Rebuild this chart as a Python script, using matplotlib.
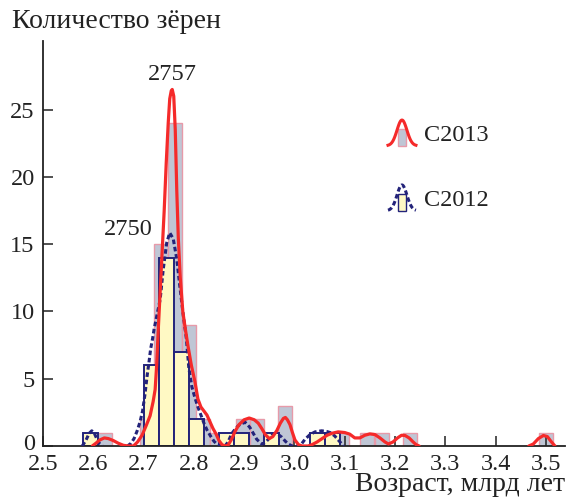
import numpy as np
import matplotlib
matplotlib.use("Agg")
import matplotlib.pyplot as plt
import matplotlib.transforms as mtransforms
from matplotlib.legend_handler import HandlerBase
from matplotlib.patches import Rectangle
from matplotlib.lines import Line2D

# ---------------- data ----------------
# C2013 histogram (bin centres, counts)
c2013_centers = [2.624, 2.706, 2.734, 2.762, 2.790, 2.818, 2.846, 2.897, 2.925,
                 2.982, 3.094, 3.145, 3.175, 3.230, 3.501]
c2013_counts = [1, 2, 15, 24, 9, 2, 1, 2, 2, 3, 1, 1, 1, 1, 1]
c2013_width = 0.028

# C2012 histogram
c2012_centers = [2.595, 2.715, 2.745, 2.775, 2.805, 2.865, 2.895, 2.955, 3.045, 3.075]
c2012_counts = [1, 6, 14, 7, 2, 1, 1, 1, 1, 1]
c2012_width = 0.03

# probability density curves (NaN = gap)
c2013_curve_x = [2.598, 2.605, 2.613, 2.622, 2.630, 2.640, 2.650, 2.660, 2.670, 2.680,
                 2.688, 2.697, 2.705, 2.713, 2.719, 2.723, 2.726, 2.729, 2.733, 2.737,
                 2.741, 2.745, 2.749, 2.752, 2.755, 2.757, 2.760, 2.763, 2.766, 2.769,
                 2.773, 2.778, 2.783, 2.788, 2.795, 2.802, 2.808, 2.814, 2.820, 2.826,
                 2.832, 2.838, 2.844, 2.850, 2.856, 2.862, 2.868, 2.875, 2.882, 2.890,
                 2.900, 2.910, 2.920, 2.928, 2.935, 2.942, 2.950, 2.957, 2.965, 2.972,
                 2.978, 2.982, 2.986, 2.991, 2.996, 3.001, 3.008, 3.015, 3.027, 3.035,
                 3.045, 3.055, 3.065, 3.075, 3.087, 3.100, 3.110, 3.120, 3.130, 3.140,
                 3.150, 3.160, 3.170, 3.180, 3.187, 3.196, 3.205, 3.213, 3.220, 3.228,
                 3.236, 3.242, 3.248, np.nan, 3.466, 3.475, 3.485, 3.495, 3.503, 3.510,
                 3.518]
c2013_curve_y = [0.0, 0.2, 0.45, 0.6, 0.55, 0.4, 0.2, 0.05, 0.0, 0.0,
                 0.3, 0.8, 1.5, 2.25, 3.3, 4.2, 6.0, 8.5, 11.5, 14.5,
                 17.5, 21.0, 24.0, 25.8, 26.4, 26.5, 26.0, 23.5, 19.0, 15.5,
                 12.5, 10.0, 8.7, 7.5, 6.0, 4.8, 3.5, 2.9, 2.6, 2.3,
                 1.8, 1.3, 0.9, 0.4, 0.1, 0.0, 0.05, 0.5, 1.1, 1.6,
                 1.95, 2.08, 1.95, 1.7, 1.3, 0.85, 0.55, 0.7, 1.15, 1.7,
                 2.05, 2.12, 1.95, 1.6, 1.0, 0.45, 0.1, 0.0, 0.0, 0.1,
                 0.3, 0.55, 0.8, 0.95, 1.05, 1.0, 0.88, 0.6, 0.6, 0.8,
                 0.9, 0.85, 0.6, 0.3, 0.15, 0.3, 0.6, 0.8, 0.78, 0.6,
                 0.3, 0.1, 0.0, np.nan, 0.0, 0.15, 0.55, 0.78, 0.7, 0.35,
                 0.0]

c2012_curve_x = [2.578, 2.585, 2.592, 2.597, 2.602, 2.608, 2.613, 2.618, np.nan,
                 2.668, 2.675, 2.681, 2.687, 2.693, 2.698, 2.703, 2.707, 2.711, 2.714,
                 2.718, 2.721, 2.727, 2.733, 2.739, 2.746, 2.752, 2.759, 2.766, 2.772,
                 2.779, 2.785, 2.790, 2.796, 2.802, 2.808, 2.814, 2.820, 2.826, 2.833,
                 2.840, 2.847, 2.855, 2.862, 2.868, 2.875, 2.884, 2.892, 2.902, 2.911,
                 2.918, 2.925, 2.935, 2.942, 2.948, 2.955, 2.961, 2.968, 2.975, 2.982,
                 2.988, 2.995, 3.011, 3.021, 3.031, 3.041, 3.054, 3.064, 3.071, 3.080,
                 3.087, 3.093, 3.098]
c2012_curve_y = [0.0, 0.4, 0.95, 1.13, 0.95, 0.45, 0.15, 0.0, np.nan,
                 0.0, 0.2, 0.55, 1.1, 1.8, 2.6, 3.9, 5.2, 6.3, 7.2,
                 8.0, 8.7, 9.8, 10.9, 13.1, 15.1, 15.85, 15.4, 13.9, 11.9,
                 9.7, 8.0, 5.8, 4.4, 3.6, 2.9, 2.3, 1.7, 1.2, 0.75,
                 0.35, 0.1, 0.0, 0.0, 0.3, 0.9, 1.35, 1.62, 1.76, 1.4,
                 0.95, 0.5, 0.15, 0.25, 0.5, 0.8, 0.94, 0.85, 0.65, 0.35,
                 0.15, 0.0, 0.0, 0.5, 0.85, 1.05, 1.13, 1.08, 1.0, 0.75,
                 0.45, 0.2, 0.0]

peak_labels = ["2757", "2750"]
peak_label_x = [2.757, 2.718]
peak_label_y = [27.6, 16.1]

series_names = ["C2013", "C2012"]
x_ticks = [2.5, 2.6, 2.7, 2.8, 2.9, 3.0, 3.1, 3.2, 3.3, 3.4, 3.5]
y_ticks = [0, 5, 10, 15, 20, 25]

# ---------------- style ----------------
FONT = "Liberation Serif"
FS = 17.5
FS_LAB = 20
plt.rcParams['font.family'] = [FONT, 'DejaVu Serif']

red = "#f52a2a"
navy = "#23237a"
gray_fill = "#bfc6d5"
pink_edge = "#e79aa9"
yellow_fill = "#fff9c4"
ink = '#222222'

fig = plt.figure(figsize=(5.69, 4.97), dpi=100)
ax = fig.add_axes([43/569, 1-446/497, (565-43)/569, (446-41)/497])

ax.bar(c2013_centers, c2013_counts, width=c2013_width, color=gray_fill,
       edgecolor=pink_edge, linewidth=1.0, zorder=1)
ax.bar(c2012_centers, c2012_counts, width=c2012_width, color=yellow_fill,
       edgecolor=navy, linewidth=1.4, zorder=2)
ax.plot(c2012_curve_x, c2012_curve_y, color=navy, lw=2.2,
        dashes=(1.5, 0.9), zorder=3, solid_joinstyle='round')
ax.plot(c2013_curve_x, c2013_curve_y, color=red, lw=2.3, zorder=4,
        solid_joinstyle='round', solid_capstyle='round')

ax.text(peak_label_x[0], peak_label_y[0], peak_labels[0], ha='center', va='center',
        fontsize=FS, color=ink)
ax.text(peak_label_x[1], peak_label_y[1], peak_labels[1], ha='right', va='center',
        fontsize=FS, color=ink)

ax.set_xlim(2.5, 3.538)
ax.set_ylim(0, 30.1)
ax.set_xticks(x_ticks)
ax.set_xticklabels([f"{t:.1f}" for t in x_ticks])
ax.set_yticks(y_ticks)
ax.tick_params(axis='both', direction='in', length=7, width=1.1, labelsize=FS,
               colors=ink)
ax.tick_params(axis='x', pad=6)
ax.tick_params(axis='y', pad=6)
fig.canvas.draw()
# lift the "0" label a few pixels, as in the reference
ylab0 = ax.get_yticklabels()[0]
ylab0.set_transform(ylab0.get_transform() +
                    mtransforms.ScaledTranslation(0, 4/100, fig.dpi_scale_trans))
for s in ['top', 'right']:
    ax.spines[s].set_visible(False)
for s in ['left', 'bottom']:
    ax.spines[s].set_linewidth(1.3)
    ax.spines[s].set_color(ink)

ax.set_xlabel("Возраст, млрд лет", fontsize=FS_LAB, loc='right', labelpad=-2.5,
              color=ink)
fig.text(12/569, 1-22/497, "Количество зёрен", fontsize=FS_LAB, ha='left',
         va='center', color=ink)


# legend with bell + bar icons
class BellHandler(HandlerBase):
    def __init__(self, line_kw, rect_kw):
        super().__init__()
        self.line_kw = line_kw
        self.rect_kw = rect_kw

    def create_artists(self, legend, orig_handle, xdescent, ydescent, width,
                       height, fontsize, trans):
        xs = np.linspace(0, width, 40)
        ys = height * np.exp(-((xs - width / 2) / (width * 0.25)) ** 2)
        rw = width * 0.3
        rect = Rectangle((width / 2 - rw / 2 - xdescent, -ydescent), rw,
                         height * 0.65, transform=trans, **self.rect_kw)
        line = Line2D(xs - xdescent, ys - ydescent, transform=trans,
                      **self.line_kw)
        return [rect, line]


h1 = Line2D([], [])
h2 = Line2D([], [])
hmap = {
    h1: BellHandler(dict(color=red, lw=2.2),
                    dict(facecolor=gray_fill, edgecolor=pink_edge, lw=1.0)),
    h2: BellHandler(dict(color=navy, lw=2.2, dashes=(1.5, 0.9)),
                    dict(facecolor=yellow_fill, edgecolor=navy, lw=1.0)),
}
leg = fig.legend([h1, h2], series_names, handler_map=hmap, loc='upper left',
                 bbox_to_anchor=(388/569, 1-120/497), frameon=False,
                 borderpad=0, borderaxespad=0, handlelength=1.15,
                 handleheight=1.25, handletextpad=0.35, labelspacing=1.6,
                 fontsize=FS)
for t in leg.get_texts():
    t.set_color(ink)

fig.savefig("out.png", dpi=100)
